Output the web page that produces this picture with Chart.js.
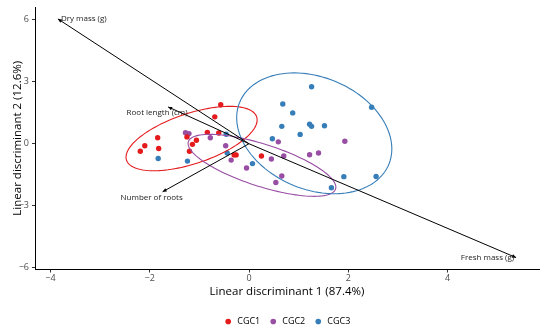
<!DOCTYPE html>
<html>
<head>
<meta charset="utf-8">
<script src="https://cdn.jsdelivr.net/npm/chart.js@4/dist/chart.umd.min.js"></script>
<style>
  html, body { margin: 0; padding: 0; background: #fff; }
  canvas { display: block; }
</style>
</head>
<body>
<canvas id="lda-chart" width="550" height="330"></canvas>
<script>
  // ------------------------------------------------------
  // @Data
  // ------------------------------------------------------

  const groups = ['CGC1', 'CGC2', 'CGC3'];

  const cgc1LD1 = [-0.57, -0.69, -0.84, -0.61, -1.25, -1.06, -1.14, -1.20, -1.84, -2.10, -2.19, -1.82, -0.30, -0.26, 0.25];
  const cgc1LD2 = [1.88, 1.30, 0.55, 0.52, 0.33, 0.17, -0.03, -0.36, 0.29, -0.10, -0.36, -0.23, -0.54, -0.54, -0.59];

  const cgc2LD1 = [-1.28, -1.21, -0.78, -0.47, -0.36, -0.05, 0.45, 0.59, 0.70, 1.22, 1.40, 1.93, 0.54, 0.66];
  const cgc2LD2 = [0.53, 0.49, 0.29, -0.10, -0.79, -1.17, -0.74, 0.09, -0.59, -0.53, -0.45, 0.12, -1.87, -1.56];

  const cgc3LD1 = [1.26, 0.68, 0.88, 0.66, 1.22, 1.26, 1.52, 1.03, 2.47, 0.47, -0.46, -0.44, 0.07, -1.83, -1.24, 1.91, 2.56, 1.66];
  const cgc3LD2 = [2.75, 1.92, 1.49, 0.84, 0.94, 0.84, 0.87, 0.45, 1.76, 0.24, 0.46, -0.45, -0.96, -0.71, -0.84, -1.59, -1.58, -2.13];

  // confidence ellipses: centre [LD1, LD2] and shape [sxx, sxy, syy]
  const ellipseCentre = [[-1.157, 0.250], [0.261, -1.043], [1.314, 0.503]];
  const ellipseShape = [[1.744, 1.189, 2.423], [2.215, -1.570, 2.245], [2.442, -1.177, 8.517]];

  // biplot arrows (scaled loadings)
  const variables = ['Dry mass (g)', 'Root length (cm)', 'Number of roots', 'Fresh mass (g)'];
  const loadLD1 = [-3.85, -1.63, -1.74, 5.38];
  const loadLD2 = [6.03, 1.78, -2.32, -5.50];

  const xTicks = [-4, -2, 0, 2, 4];
  const yTicks = [-6, -3, 0, 3, 6];

  // ------------------------------------------------------
  // @Styles
  // ------------------------------------------------------

  const COLORS = ['#E41A1C', '#984EA3', '#377EB8'];
  const FONT = "'Open Sans', 'Noto Sans', sans-serif";
  Chart.defaults.font.family = FONT;

  const labelStyle = [
    { align: 'left',   dx: 3,   dy: 0 },
    { align: 'center', dx: -11, dy: 6 },
    { align: 'center', dx: -11, dy: 6 },
    { align: 'right',  dx: -2,  dy: 0.5 },
  ];

  const zip = (xs, ys) => xs.map((v, i) => ({ x: v, y: ys[i] }));
  const pad = (lo, hi) => [lo - (hi - lo) * 0.05, hi + (hi - lo) * 0.05];

  const xr = pad(Math.min(...loadLD1), Math.max(...loadLD1));
  const yr = pad(Math.min(...loadLD2), Math.max(...loadLD2));

  const minus = (v) => (v < 0 ? '\u2212' + Math.abs(v) : '' + v);

  // ------------------------------------------------------
  // @Overlay: ellipses, arrows, labels
  // ------------------------------------------------------

  const overlay = {
    id: 'ldaOverlay',
    afterDatasetsDraw(chart) {
      const { ctx, chartArea, scales: { x, y } } = chart;
      ctx.save();
      ctx.beginPath();
      ctx.rect(chartArea.left, chartArea.top, chartArea.width, chartArea.height);
      ctx.clip();

      groups.forEach((g, i) => {
        const [cx, cy] = ellipseCentre[i];
        const [sxx, sxy, syy] = ellipseShape[i];
        const l11 = Math.sqrt(sxx);
        const l21 = sxy / l11;
        const l22 = Math.sqrt(syy - l21 * l21);
        ctx.beginPath();
        for (let k = 0; k <= 120; k++) {
          const t = (k / 120) * 2 * Math.PI;
          const px = x.getPixelForValue(cx + l11 * Math.cos(t));
          const py = y.getPixelForValue(cy + l21 * Math.cos(t) + l22 * Math.sin(t));
          if (k === 0) ctx.moveTo(px, py); else ctx.lineTo(px, py);
        }
        ctx.closePath();
        ctx.strokeStyle = COLORS[i];
        ctx.lineWidth = 1.1;
        ctx.stroke();
      });

      const x0 = x.getPixelForValue(0);
      const y0 = y.getPixelForValue(0);
      ctx.strokeStyle = '#000';
      ctx.fillStyle = '#000';
      ctx.lineWidth = 1;
      variables.forEach((v, i) => {
        const x1 = x.getPixelForValue(loadLD1[i]);
        const y1 = y.getPixelForValue(loadLD2[i]);
        const a = Math.atan2(y1 - y0, x1 - x0);
        ctx.beginPath();
        ctx.moveTo(x0, y0);
        ctx.lineTo(x1, y1);
        ctx.stroke();
        ctx.beginPath();
        ctx.moveTo(x1, y1);
        ctx.lineTo(x1 - 4 * Math.cos(a) + 1.8 * Math.sin(a), y1 - 4 * Math.sin(a) - 1.8 * Math.cos(a));
        ctx.lineTo(x1 - 4 * Math.cos(a) - 1.8 * Math.sin(a), y1 - 4 * Math.sin(a) + 1.8 * Math.cos(a));
        ctx.closePath();
        ctx.fill();
      });
      ctx.restore();

      ctx.save();
      ctx.font = '8px ' + FONT;
      ctx.fillStyle = '#222';
      ctx.textBaseline = 'middle';
      variables.forEach((v, i) => {
        const s = labelStyle[i];
        ctx.textAlign = s.align;
        ctx.fillText(v, x.getPixelForValue(loadLD1[i]) + s.dx, y.getPixelForValue(loadLD2[i]) + s.dy);
      });
      ctx.restore();
    },
  };

  // ------------------------------------------------------
  // @Scatter chart
  // ------------------------------------------------------

  const ldaBox = document.getElementById('lda-chart');
  const ldaCtx = ldaBox.getContext('2d');
  const series = [zip(cgc1LD1, cgc1LD2), zip(cgc2LD1, cgc2LD2), zip(cgc3LD1, cgc3LD2)];

  new Chart(ldaCtx, {
    type: 'scatter',
    data: {
      datasets: groups.map((g, i) => ({
        label           : g,
        data            : series[i],
        backgroundColor : COLORS[i],
        borderColor     : COLORS[i],
        borderWidth     : 0,
        pointRadius     : 2.7,
        pointHoverRadius: 2.7,
      })),
    },
    options: {
      responsive: false,
      animation: false,
      devicePixelRatio: 1,
      layout: { padding: { top: 7, right: 11, left: 0, bottom: -6 } },
      plugins: {
        tooltip: { enabled: false },
        legend: {
          position: 'bottom',
          fullSize: false,
          labels: {
            usePointStyle: true,
            pointStyle: 'circle',
            boxWidth: 9,
            boxHeight: 4,
            padding: 8.5,
            color: '#000',
            font: { size: 9 },
          },
        },
      },
      scales: {
        x: {
          type: 'linear',
          min: xr[0],
          max: xr[1],
          afterFit: (s) => { s.height = 39; },
          afterBuildTicks: (s) => { s.ticks = xTicks.map((v) => ({ value: v })); },
          grid: { drawOnChartArea: false, drawTicks: true, tickLength: 3, color: '#333' },
          border: { color: '#000', width: 1 },
          ticks: { color: '#4D4D4D', font: { size: 9 }, padding: 1, callback: minus },
          title: {
            display: true,
            text: 'Linear discriminant 1 (87.4%)',
            color: '#000',
            font: { size: 11.5 },
            padding: { top: 0, bottom: 10.1 },
          },
        },
        y: {
          type: 'linear',
          min: yr[0],
          max: yr[1],
          afterFit: (s) => { s.width = 35; s.paddingTop = 0; s.paddingBottom = 0; },
          afterBuildTicks: (s) => { s.ticks = yTicks.map((v) => ({ value: v })); },
          grid: { drawOnChartArea: false, drawTicks: true, tickLength: 3, color: '#333' },
          border: { color: '#000', width: 1 },
          ticks: { color: '#4D4D4D', font: { size: 9 }, padding: 3, callback: minus },
          title: {
            display: true,
            text: 'Linear discriminant 2 (12.6%)',
            color: '#000',
            font: { size: 11.5 },
            padding: { top: 11, bottom: 0 },
          },
        },
      },
    },
    plugins: [overlay],
  });
</script>
</body>
</html>
